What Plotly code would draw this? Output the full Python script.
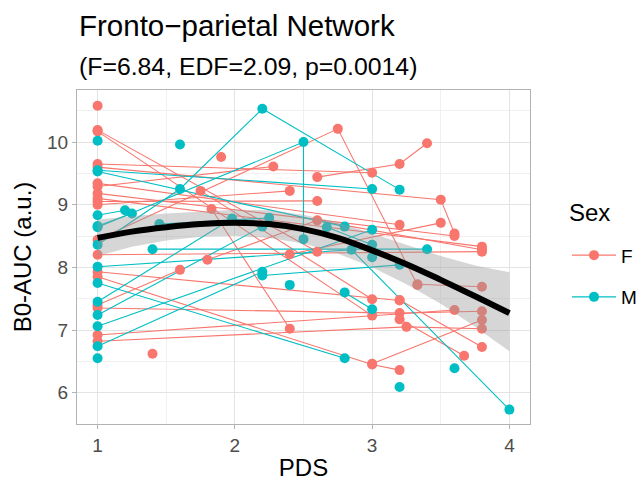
import plotly.graph_objects as go

# ---- data ----
subject = ["F1",
           "F2", "F2", "F3", "F3", "F4", "F4", "F5", "F5", "F5", "F6", "F6",
           "F7", "F7", "F8", "F8", "F9", "F9", "F10", "F10", "F11", "F11",
           "F12", "F12", "F12", "F13", "F13", "F14", "F14", "F15", "F15", "F15",
           "F16", "F16", "F17", "F17", "F17", "F18", "F18", "F19", "F19", "F19",
           "F20", "F21", "F22", "F22", "F23", "F23", "F24", "F24", "F24",
           "F25", "F25", "F26", "F26", "F26", "F27", "F27", "F28", "F28",
           "F29", "F29", "F30", "F30",
           "M1", "M2", "M2", "M3", "M3", "M4", "M4", "M5", "M5",
           "M6", "M6", "M6", "M6", "M7", "M7", "M7", "M8", "M8", "M9", "M9",
           "M10", "M10", "M11", "M11", "M11", "M12", "M12", "M13", "M13",
           "M14", "M15", "M16", "M16", "M17", "M17", "M18", "M18", "M19",
           "M20", "M20", "M21", "M21", "M22", "M23", "M24"]
pds = [1,
       1, 2.6, 1, 3.0, 1, 3.0, 1, 3.5, 3.6, 1, 3.2,
       1, 2.28, 1, 3.6, 1, 3.8, 1, 2.6, 1, 2.4,
       1, 2.75, 3.33, 1, 3.8, 1, 3.2, 1, 3.0, 3.2,
       1, 1.6, 1, 3.2, 3.8, 1, 3.6, 1, 3.25, 3.8,
       1.4, 1.9, 1.75, 3.0, 1.83, 2.4, 1.8, 2.6, 3.8,
       2.4, 3.5, 2.6, 3.2, 3.4, 3.0, 3.8, 3.2, 3.67,
       3.2, 3.8, 3.33, 3.8,
       1, 1, 3.0, 1, 2.8, 1, 1.2, 1, 1.25,
       1, 1.6, 2.2, 3.2, 1, 2.5, 2.5, 1, 2.2, 1, 3.0,
       1, 2.8, 1, 2.85, 4.0, 1, 1.98, 1, 2.2,
       1, 1.6, 1.45, 2.25, 1.4, 3.4, 2.2, 3.2, 2.4,
       2.8, 3.0, 2.67, 3.0, 3.0, 3.2, 3.6]
auc = [10.58,
       10.19, 8.25, 10.17, 7.23, 9.65, 9.51, 9.60, 9.08, 8.54, 9.34, 8.68,
       9.29, 9.61, 9.18, 8.50, 9.10, 8.33, 9.05, 9.06, 9.00, 9.22,
       8.44, 10.21, 7.72, 8.20, 8.25, 7.93, 7.47, 7.85, 6.45, 6.36,
       7.40, 7.96, 7.35, 7.27, 7.30, 6.92, 7.32, 6.82, 7.05, 7.02,
       6.62, 9.76, 9.22, 7.49, 8.93, 7.02, 8.12, 8.75, 8.28,
       8.21, 8.71, 9.44, 9.65, 9.98, 6.46, 7.16, 7.17, 6.59,
       7.48, 6.73, 7.73, 7.69,
       10.02, 9.55, 9.25, 9.53, 8.65, 8.83, 8.91, 8.66, 8.86,
       8.36, 9.25, 10.53, 9.24, 8.64, 10.00, 8.45, 7.24, 8.65, 7.06, 8.60,
       7.75, 6.55, 8.01, 8.28, 5.73, 7.45, 8.78, 6.74, 7.93,
       6.55, 9.96, 8.69, 8.79, 8.29, 8.29, 7.87, 8.04, 7.72,
       7.60, 7.33, 8.64, 8.36, 8.16, 6.09, 6.39]
sex = [s[0] for s in subject]

# GAM smooth (fit and 95% band)
smooth_pds = [1.0, 1.25, 1.5, 1.75, 2.0, 2.25, 2.5, 2.75, 3.0, 3.25, 3.5, 3.75, 4.0]
smooth_fit = [8.47, 8.57, 8.64, 8.69, 8.71, 8.69, 8.61, 8.47, 8.27, 8.05, 7.80, 7.54, 7.27]
smooth_lo = [8.18, 8.33, 8.43, 8.49, 8.50, 8.47, 8.38, 8.22, 8.00, 7.73, 7.42, 7.05, 6.66]
smooth_hi = [8.76, 8.82, 8.86, 8.89, 8.92, 8.91, 8.84, 8.72, 8.54, 8.37, 8.18, 8.03, 7.92]

sex_levels = ["F", "M"]
sex_colors = {"F": "#F8766D", "M": "#00BFC4"}

x_ticks = [1, 2, 3, 4]
y_ticks = [6, 7, 8, 9, 10]

FONT = "Liberation Sans, Arial, Helvetica, sans-serif"

fig = go.Figure()

# subject trajectories
for s in sex_levels:
    xs, ys = [], []
    seen = []
    for sid in subject:
        if sid[0] == s and sid not in seen:
            seen.append(sid)
    for sid in seen:
        idx = [i for i, v in enumerate(subject) if v == sid]
        if len(idx) < 2:
            continue
        xs += [pds[i] for i in idx] + [None]
        ys += [auc[i] for i in idx] + [None]
    fig.add_trace(go.Scatter(x=xs, y=ys, mode="lines", showlegend=False,
                             line=dict(color=sex_colors[s], width=1.1),
                             hoverinfo="skip"))

# points
for s in sex_levels:
    idx = [i for i, v in enumerate(sex) if v == s]
    fig.add_trace(go.Scatter(x=[pds[i] for i in idx], y=[auc[i] for i in idx],
                             mode="markers", showlegend=False,
                             marker=dict(color=sex_colors[s], size=10, line=dict(width=0))))

# confidence band
fig.add_trace(go.Scatter(x=smooth_pds + smooth_pds[::-1], y=smooth_hi + smooth_lo[::-1],
                         fill="toself", fillcolor="rgba(153,153,153,0.4)",
                         line=dict(width=0), mode="lines",
                         showlegend=False, hoverinfo="skip"))
# fitted curve
fig.add_trace(go.Scatter(x=smooth_pds, y=smooth_fit, mode="lines", showlegend=False,
                         line=dict(color="black", width=6, shape="spline")))

# legend entries
for s in sex_levels:
    fig.add_trace(go.Scatter(x=[None], y=[None], mode="lines+markers", name=s,
                             legendgroup=s,
                             line=dict(color=sex_colors[s], width=1.1),
                             marker=dict(color=sex_colors[s], size=10)))

axis_common = dict(
    showline=True, linecolor="#b3b3b3", linewidth=1, mirror=True,
    showgrid=True, gridcolor="#e3e3e3", gridwidth=1,
    zeroline=False, ticks="outside", ticklen=4, tickcolor="#b3b3b3",
    tickfont=dict(family=FONT, size=19, color="#4d4d4d"), automargin=False,
)

fig.update_layout(
    width=641, height=481,
    margin=dict(l=77, r=111, t=90, b=57, autoexpand=False),
    paper_bgcolor="white", plot_bgcolor="white",
    font=dict(family=FONT, color="black"),
    xaxis=dict(range=[0.85, 4.15], tickvals=x_ticks, **axis_common,
               minor=dict(tick0=0.5, dtick=1, showgrid=True, gridcolor="#f0f0f0", ticks=""),
               title=dict(text="PDS", font=dict(size=24, family=FONT), standoff=10)),
    yaxis=dict(range=[5.5, 10.83], tickvals=y_ticks, **axis_common,
               minor=dict(tick0=0.5, dtick=1, showgrid=True, gridcolor="#f0f0f0", ticks=""),
               title=dict(text="B0-AUC (a.u.)", font=dict(size=24, family=FONT), standoff=8)),
    legend=dict(font=dict(size=19, family=FONT), x=1.0817, xanchor="left",
                y=0.562, yanchor="top", tracegroupgap=14, itemwidth=44,
                bgcolor="rgba(0,0,0,0)"),
    annotations=[
        dict(text="Fronto\u2212parietal Network", xref="paper", yref="paper",
             x=0, y=1.192, xanchor="left", yanchor="middle", showarrow=False,
             font=dict(size=29.5, family=FONT, color="black")),
        dict(text="(F=6.84, EDF=2.09, p=0.0014)", xref="paper", yref="paper",
             x=0, y=1.07, xanchor="left", yanchor="middle", showarrow=False,
             font=dict(size=24.8, family=FONT, color="black")),
        dict(text="Sex", xref="paper", yref="paper",
             x=1.082, y=0.632, xanchor="left", yanchor="middle", showarrow=False,
             font=dict(size=24, family=FONT, color="black")),
    ],
)

fig.write_html("out.html")
